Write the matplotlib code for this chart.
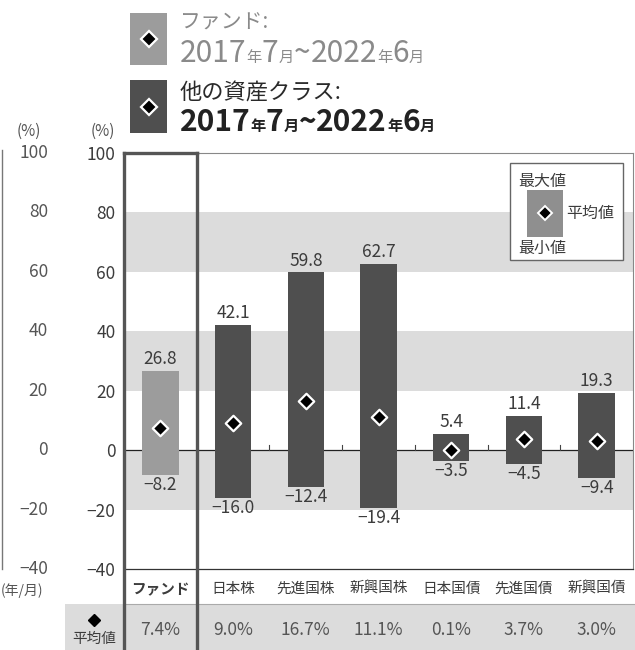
import matplotlib
matplotlib.use("Agg")
import matplotlib.pyplot as plt
from matplotlib.patches import Rectangle
from matplotlib.lines import Line2D
import matplotlib.transforms as mtransforms

plt.rcParams['font.family'] = ['Noto Sans CJK JP', 'DejaVu Sans']
plt.rcParams['axes.unicode_minus'] = True

# ---- data ----
categories = ["ファンド", "日本株", "先進国株", "新興国株", "日本国債", "先進国債", "新興国債"]
max_vals = [26.8, 42.1, 59.8, 62.7, 5.4, 11.4, 19.3]
min_vals = [-8.2, -16.0, -12.4, -19.4, -3.5, -4.5, -9.4]
mean_vals = [7.4, 9.0, 16.7, 11.1, 0.1, 3.7, 3.0]
yticks = [100, 80, 60, 40, 20, 0, -20, -40]
bands = [(60, 80), (20, 40), (-20, 0)]

W, H = 635, 650
fig = plt.figure(figsize=(W / 100, H / 100), dpi=100)

def fx(x):
    return x / W

def fy(y):
    return 1 - y / H

FUND_C = "#9c9c9c"
OTHER_C = "#4f4f4f"
BAND_C = "#dcdcdc"
TXT_C = "#3c3c3c"
BOX_C = "#555555"

L, R, T, B = 124, 633, 153, 569
ax = fig.add_axes([fx(L), fy(B), fx(R) - fx(L), fy(T) - fy(B)])
ax.set_xlim(-0.5, len(categories) - 0.5)
ax.set_ylim(-40, 100)

for lo, hi in bands:
    ax.axhspan(lo, hi, color=BAND_C, zorder=0, lw=0)
ax.axhline(0, color="#222222", lw=0.9, zorder=2)
for xb in [1.5, 2.5, 3.5, 4.5, 5.5]:
    ax.plot([xb, xb], [0, 1.6], color="#444444", lw=0.8, zorder=2)

xs = list(range(len(categories)))
colors = [FUND_C] + [OTHER_C] * (len(categories) - 1)
heights = [mx - mn for mx, mn in zip(max_vals, min_vals)]
ax.bar(xs, heights, bottom=min_vals, width=0.5, color=colors, zorder=3)
ax.scatter(xs, mean_vals, marker="D", s=62, facecolor="black",
           edgecolor="white", linewidths=1.6, zorder=4)

def fmt(v):
    s = f"{abs(v):.1f}"
    return ("\u2212" + s) if v < 0 else s

for x, mx, mn in zip(xs, max_vals, min_vals):
    ax.annotate(fmt(mx), (x, mx), xytext=(0, 2), textcoords="offset points",
                ha="center", va="bottom", fontsize=12.5, color=TXT_C)
    ax.annotate(fmt(mn), (x, mn), xytext=(0, -1), textcoords="offset points",
                ha="center", va="top", fontsize=12.5, color=TXT_C)

ax.set_yticks(yticks)
ax.set_yticklabels([fmt(v).replace(".0", "") for v in yticks], fontsize=12.5, color=TXT_C)
ax.tick_params(axis="y", length=0, pad=6)
ax.set_xticks([])
for s in ["top", "right"]:
    ax.spines[s].set_color("#888888")
    ax.spines[s].set_linewidth(0.8)
ax.spines["bottom"].set_color("#333333")
ax.spines["bottom"].set_linewidth(0.9)
ax.spines["left"].set_visible(False)

# (%) label
fig.text(fx(103), fy(131), "(%)", ha="center", va="center", fontsize=11, color="#555555")

# left partial chart
for v in yticks:
    ypix = T + (100 - v) / 140 * (B - T)
    fig.text(fx(48), fy(ypix), fmt(v).replace(".0", ""), ha="right", va="center",
             fontsize=12.5, color="#555555")
fig.text(fx(29), fy(131), "(%)", ha="center", va="center", fontsize=11, color="#555555")
fig.add_artist(Line2D([fx(2), fx(2)], [fy(150), fy(569)], color="#777777", lw=1))
fig.text(fx(1), fy(591), "(年/月)", ha="left", va="center", fontsize=10, color="#555555")

# bottom grey row
fig.add_artist(Rectangle((fx(65), 0), 1 - fx(65), fy(604), transform=fig.transFigure,
                         facecolor=BAND_C, edgecolor="none", zorder=0))
fig.add_artist(Line2D([fx(124), 1], [fy(604), fy(604)], color="#aaaaaa", lw=0.8))

blend = mtransforms.blended_transform_factory(ax.transData, fig.transFigure)
for x, c in zip(xs, categories):
    fig.text(x, fy(589), c, transform=blend, ha="center", va="center",
             fontsize=10.5, color=TXT_C, fontweight="bold" if x == 0 else "normal")
for x, m in zip(xs, mean_vals):
    fig.text(x, fy(630), f"{m:.1f}%", transform=blend, ha="center", va="center",
             fontsize=12.5, color="#555555")
fig.add_artist(Line2D([fx(94)], [fy(620)], marker="D", markersize=6,
                      color="black", linestyle="none"))
fig.text(fx(94), fy(639), "平均値", ha="center", va="center", fontsize=10.5, color=TXT_C)

# fund frame
for xb in [-0.5, 0.5]:
    fig.add_artist(Line2D([xb, xb], [0, fy(T)], transform=blend, color=BOX_C, lw=2.4,
                          solid_capstyle="projecting"))
fig.add_artist(Line2D([-0.5, 0.5], [fy(T), fy(T)], transform=blend, color=BOX_C, lw=2.4,
                      solid_capstyle="projecting"))

# inner legend box
fig.add_artist(Rectangle((fx(510), fy(260)), fx(623) - fx(510), fy(163) - fy(260),
                         transform=fig.transFigure, facecolor="white",
                         edgecolor="#666666", lw=1.0))
fig.add_artist(Rectangle((fx(527), fy(237)), fx(563) - fx(527), fy(190) - fy(237),
                         transform=fig.transFigure, facecolor="#8f8f8f", edgecolor="none"))
fig.add_artist(Line2D([fx(545)], [fy(213)], marker="D", markersize=7, markerfacecolor="black",
                      markeredgecolor="white", markeredgewidth=1.4, linestyle="none"))
fig.text(fx(518), fy(181), "最大値", ha="left", va="center", fontsize=11.5, color=TXT_C)
fig.text(fx(518), fy(248), "最小値", ha="left", va="center", fontsize=11.5, color=TXT_C)
fig.text(fx(566), fy(213), "平均値", ha="left", va="center", fontsize=11.5, color=TXT_C)

# top legend
def swatch(y0, y1, color):
    fig.add_artist(Rectangle((fx(130), fy(y1)), fx(167) - fx(130), fy(y0) - fy(y1),
                             transform=fig.transFigure, facecolor=color, edgecolor="none"))
    fig.add_artist(Line2D([fx(148.5)], [fy((y0 + y1) / 2)], marker="D", markersize=8,
                          markerfacecolor="black", markeredgecolor="white",
                          markeredgewidth=1.6, linestyle="none"))

swatch(13, 65, FUND_C)
swatch(80, 133, OTHER_C)

renderer = fig.canvas.get_renderer()

def chain(x0, ybase, parts, color, weight):
    x = x0
    for txt, size in parts:
        t = fig.text(fx(x), fy(ybase), txt, ha="left", va="baseline",
                     fontsize=size, color=color, fontweight=weight)
        bb = t.get_window_extent(renderer=renderer)
        x += bb.width

period = [("2017", 21.5), ("年", 11), ("7", 21.5), ("月", 11), ("~", 21.5),
          ("2022", 21.5), ("年", 11), ("6", 21.5), ("月", 11)]
fig.text(fx(180), fy(23), "ファンド:", ha="left", va="center", fontsize=15, color="#8a8a8a")
chain(180, 62, period, "#8a8a8a", "normal")
fig.text(fx(180), fy(93), "他の資産クラス:", ha="left", va="center", fontsize=16, color="#2a2a2a")
chain(180, 131, period, "#222222", "bold")

fig.savefig("out.png", dpi=100)
